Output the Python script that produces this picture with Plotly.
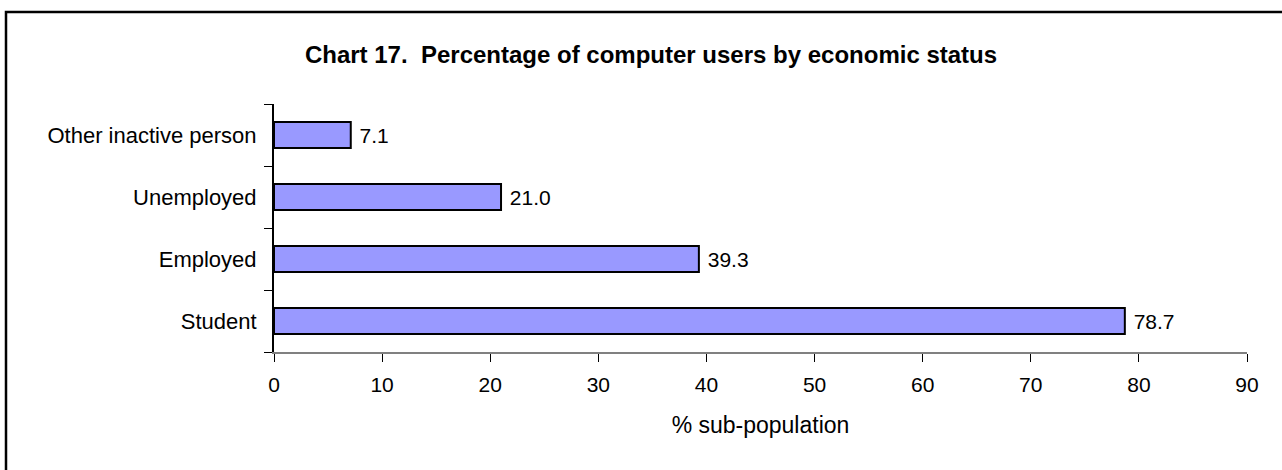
import plotly.graph_objects as go

# Computer use by economic status (% of each sub-population)
categories = ["Student", "Employed", "Unemployed", "Other inactive person"]
values = [78.7, 39.3, 21.0, 7.1]
x_ticks = [0, 10, 20, 30, 40, 50, 60, 70, 80, 90]

W, H = 1282, 470
L, R, T, B = 274, 35, 104, 118
plot_w = W - L - R
plot_h = H - T - B

FONT = "Liberation Sans, Arial, sans-serif"

fig = go.Figure(
    go.Bar(
        y=categories,
        x=values,
        orientation="h",
        marker=dict(color="#9999FF", line=dict(color="black", width=2)),
        width=0.42,
        texttemplate=" %{x:.1f}",
        textposition="outside",
        textfont=dict(family=FONT, size=21, color="black"),
        cliponaxis=False,
        hoverinfo="skip",
    )
)


def px_x(p):
    return (p - L) / plot_w


def px_y(p):
    return (H - B - p) / plot_h


# frame around the whole chart
fig.add_shape(
    type="rect",
    xref="paper", yref="paper",
    x0=px_x(6), x1=px_x(W + 10),
    y0=px_y(H + 10), y1=px_y(12),
    line=dict(color="black", width=2.5),
    fillcolor="rgba(0,0,0,0)",
    layer="below",
)

fig.update_layout(
    width=W,
    height=H,
    margin=dict(l=L, r=R, t=T, b=B, pad=0),
    paper_bgcolor="white",
    plot_bgcolor="white",
    showlegend=False,
    font=dict(family=FONT, size=21, color="black"),
    title=dict(
        text="<b>Chart 17.  Percentage of computer users by economic status</b>",
        x=651 / W,
        xanchor="center",
        y=1 - 55 / H,
        yanchor="middle",
        font=dict(family=FONT, size=24, color="black"),
    ),
    xaxis=dict(
        range=[0, 90],
        tickvals=x_ticks,
        ticks="outside",
        ticklen=8,
        tickcolor="black",
        tickwidth=1,
        showline=True,
        linecolor="#808080",
        linewidth=2,
        showgrid=False,
        zeroline=False,
        tickfont=dict(family=FONT, size=21),
        ticklabelstandoff=5,
        title=dict(text="% sub-population", font=dict(family=FONT, size=23), standoff=22),
    ),
    yaxis=dict(
        type="category",
        categoryorder="array",
        categoryarray=categories,
        range=[-0.5, 3.5],
        tickson="boundaries",
        ticks="outside",
        ticklen=8,
        tickcolor="black",
        tickwidth=1,
        showline=True,
        linecolor="black",
        linewidth=2,
        showgrid=False,
        zeroline=False,
        tickfont=dict(family=FONT, size=22),
        ticklabelstandoff=11,
    ),
)

fig.write_html("out.html")
